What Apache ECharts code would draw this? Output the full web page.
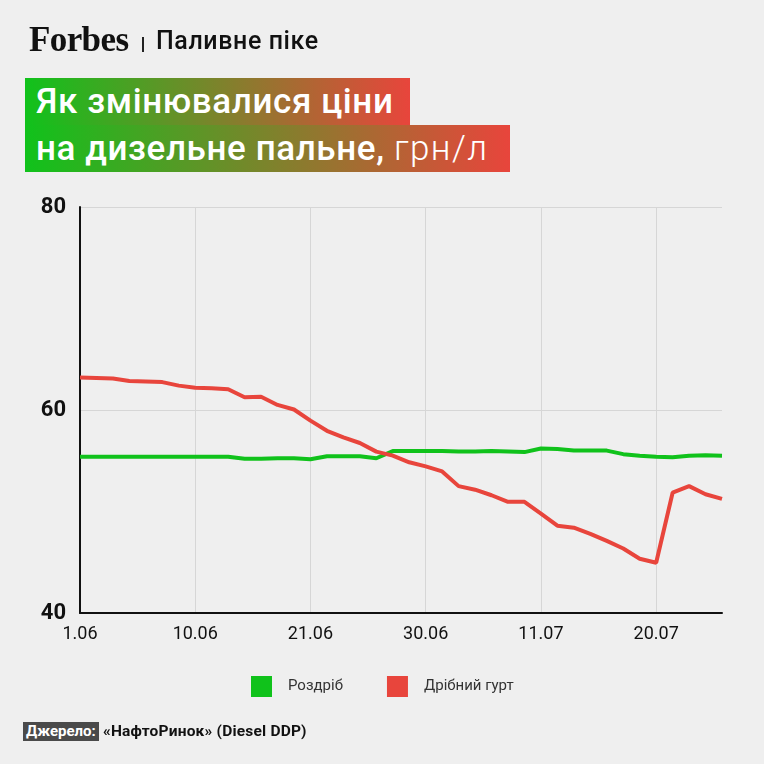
<!DOCTYPE html>
<html lang="uk">
<head>
    <meta charset="UTF-8">
    <title>Паливне піке</title>
    <script src="https://cdn.jsdelivr.net/npm/echarts@6/dist/echarts.min.js"></script>
    <style>
        body { margin: 0; background: #efefef; }
        #wrap { position: relative; width: 764px; height: 764px; background: #efefef; overflow: hidden; }
        #main { position: absolute; left: 0; top: 0; width: 764px; height: 764px; }
        .abs { position: absolute; white-space: nowrap; }
        .logo { left: 29px; top: 20px; font-family: 'Liberation Serif', 'DejaVu Serif', serif; font-weight: bold; font-size: 35px; letter-spacing: -0.6px; color: #111; }
        .sep { left: 142px; top: 37px; width: 2px; height: 15px; background: #222; }
        .rubric { left: 156px; top: 26px; font-family: Roboto, 'Noto Sans', sans-serif; font-weight: 500; font-size: 25px; letter-spacing: 0.6px; color: #111; }
        .row { left: 25px; height: 47px; background: linear-gradient(to right, #10c21b, #e8453c); color: #fff;
               font-family: Roboto, 'Noto Sans', sans-serif; font-weight: 500; font-size: 35px; letter-spacing: 0.6px; line-height: 47px; padding-left: 11px; box-sizing: border-box; }
        .r1 { top: 78px; width: 385px; }
        .r2 { top: 125px; width: 485px; }
        .light { font-weight: 300; letter-spacing: 1.4px; }
        .src-tag { left: 23px; top: 722px; height: 19px; padding: 0 3px; background: #4a4a4a; color: #fff; line-height: 19px;
                   font-family: Roboto, sans-serif; font-size: 15px; font-weight: bold; letter-spacing: 0px; }
        .src { left: 103px; top: 721px; line-height: 20px; color: #111;
               font-family: Roboto, sans-serif; font-size: 15.5px; font-weight: bold; letter-spacing: 0.2px; }
    </style>
</head>
<body>
<div id="wrap">
    <div id="main"></div>
    <div class="abs logo">Forbes</div>
    <div class="abs sep"></div>
    <div class="abs rubric">Паливне піке</div>
    <div class="abs row r1">Як змінювалися ціни</div>
    <div class="abs row r2">на дизельне пальне, <span class="light">грн/л</span></div>
    <div class="abs src-tag">Джерело:</div>
    <div class="abs src">«НафтоРинок» (Diesel DDP)</div>
</div>
<script>
    // робочі дні 1.06 - 26.07
    var dates = ['1.06','2.06','3.06','6.06','7.06','8.06','9.06','10.06',
        '13.06','14.06','15.06','16.06','17.06','20.06','21.06',
        '22.06','23.06','24.06','27.06','28.06','29.06','30.06',
        '1.07','4.07','5.07','6.07','7.07','8.07','11.07',
        '12.07','13.07','14.07','15.07','18.07','19.07','20.07',
        '21.07','22.07','25.07','26.07'];

    // роздріб
    var retail = [55.4,55.4,55.4,55.4,55.4,55.4,55.4,55.4,
        55.4,55.4,55.2,55.2,55.25,55.25,55.15,
        55.45,55.45,55.45,55.25,55.95,55.95,55.95,
        55.95,55.9,55.9,55.95,55.9,55.85,56.2,
        56.15,56.0,56.0,56.0,55.65,55.5,55.4,
        55.35,55.5,55.55,55.5];

    // дрібний гурт
    var smallWholesale = [63.2,63.15,63.1,62.85,62.8,62.75,62.4,62.2,
        62.15,62.05,61.25,61.3,60.5,60.05,58.95,
        57.95,57.3,56.75,55.9,55.5,54.85,54.45,
        53.95,52.5,52.15,51.6,50.95,50.95,49.8,
        48.6,48.4,47.8,47.1,46.35,45.35,44.95,
        51.85,52.5,51.7,51.25];

    var yTicks = [40, 60, 80];

    var labelFont = "Roboto, sans-serif";

    var myChart = echarts.init(document.getElementById('main'));
    var option = {
        backgroundColor: 'transparent',
        animation: false,
        grid: { left: 80, right: 42, top: 207, bottom: 151 },
        legend: {
            data: ['Роздріб', 'Дрібний гурт'],
            left: 246,
            top: 671,
            icon: 'rect',
            itemWidth: 21,
            itemHeight: 21,
            itemGap: 44,
            textStyle: { fontFamily: labelFont, fontSize: 15, color: '#333', padding: [0, 0, 0, 11] }
        },
        xAxis: {
            type: 'category',
            data: dates,
            boundaryGap: false,
            axisLine: { lineStyle: { color: '#111', width: 2 } },
            axisTick: { show: false },
            axisLabel: { interval: 6, color: '#111', fontFamily: labelFont, fontSize: 18, margin: 12 },
            splitLine: { show: true, interval: 6, lineStyle: { color: '#d6d6d6', width: 1 } }
        },
        yAxis: {
            type: 'value',
            min: yTicks[0],
            max: yTicks[yTicks.length - 1],
            interval: 20,
            axisLine: { show: true, lineStyle: { color: '#111', width: 2 } },
            axisTick: { show: false },
            axisLabel: { color: '#111', fontFamily: labelFont, fontWeight: 'bold', fontSize: 22, margin: 14 },
            splitLine: { lineStyle: { color: '#d6d6d6', width: 1 } }
        },
        series: [
            {
                name: 'Роздріб',
                type: 'line',
                data: retail,
                symbol: 'none',
                color: '#10c21b',
                lineStyle: { width: 4, color: '#10c21b' }
            },
            {
                name: 'Дрібний гурт',
                type: 'line',
                data: smallWholesale,
                symbol: 'none',
                color: '#e8453c',
                lineStyle: { width: 4, color: '#e8453c' }
            }
        ]
    };
    myChart.setOption(option);
</script>
</body>
</html>
